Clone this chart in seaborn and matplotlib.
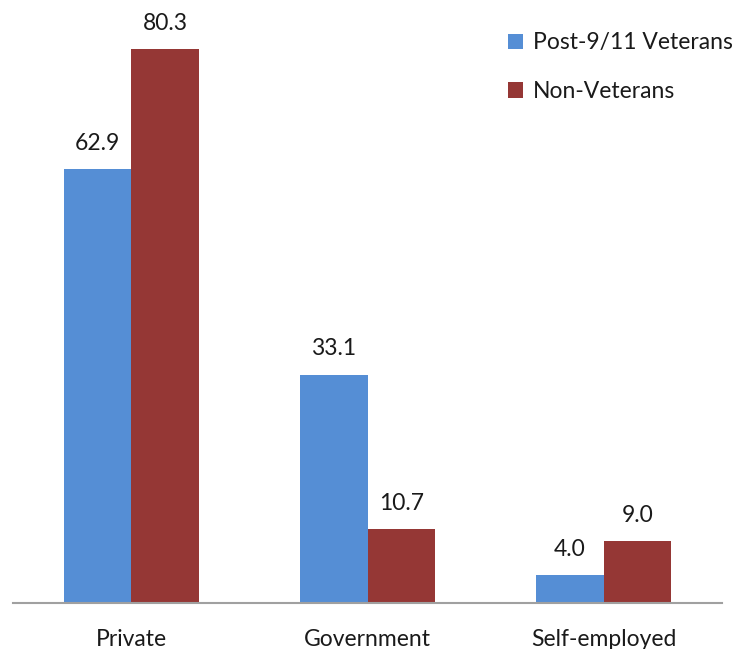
import matplotlib
matplotlib.use("Agg")
import matplotlib.pyplot as plt
import seaborn as sns
import pandas as pd
from matplotlib.patches import Patch

categories = ["Private", "Government", "Self-employed"]
series = ["Post-9/11 Veterans", "Non-Veterans"]
veterans = [62.9, 33.1, 4.0]
non_veterans = [80.3, 10.7, 9.0]
colors = ["#558ED5", "#953735"]

df = pd.DataFrame({
    "sector": categories * 2,
    "group": [series[0]] * 3 + [series[1]] * 3,
    "pct": veterans + non_veterans,
})

sns.set_theme(style="white")
plt.rcParams["font.family"] = ["Lato", "DejaVu Sans"]

fig = plt.figure(figsize=(7.4, 6.49), dpi=100)
ax = fig.add_axes([13 / 740, 46 / 649, 709 / 740, 600 / 649])

sns.barplot(data=df, x="sector", y="pct", hue="group", order=categories,
            hue_order=series, palette=colors, width=0.572, saturation=1,
            linewidth=0, ax=ax, legend=False)

for container in ax.containers:
    ax.bar_label(container, fmt="%.1f", padding=11, fontsize=16.5, color="#1a1a1a")

ax.set_xlim(-0.5, 2.5)
ax.set_ylim(0, 87)
ax.set_xlabel("")
ax.set_ylabel("")
ax.set_yticks([])
ax.tick_params(axis="x", length=0, labelsize=16.5, pad=19, colors="#1a1a1a")
for side in ["top", "right", "left"]:
    ax.spines[side].set_visible(False)
ax.spines["bottom"].set_color("#A0A0A0")
ax.spines["bottom"].set_linewidth(1.5)

handles = [Patch(facecolor=c, edgecolor="none") for c in colors]
fig.legend(handles, series, loc="upper left", bbox_to_anchor=(497 / 740, 1 - 21 / 649),
           frameon=False, fontsize=16.5, handlelength=0.65, handleheight=0.65,
           handletextpad=0.4, labelspacing=1.2, labelcolor="#1a1a1a",
           borderpad=0)

fig.savefig("out.png", dpi=100)
